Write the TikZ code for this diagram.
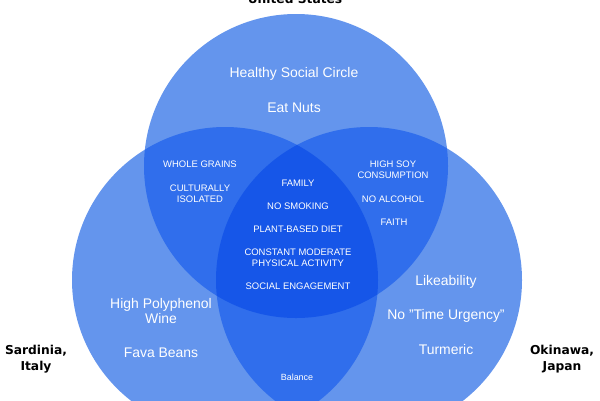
\documentclass[tikz,border=0pt]{standalone}
\usepackage{fontspec}
\setmainfont{Liberation Sans}
\newfontfamily\labelfont{DejaVu Sans}
\definecolor{cone}{RGB}{100,149,237}
\definecolor{ctwo}{RGB}{48,110,236}
\definecolor{cthree}{RGB}{22,86,232}
\begin{document}
\begin{tikzpicture}[x=1bp,y=-1bp,
  bigtext/.style={text=white,font=\fontsize{14}{16}\selectfont,align=center,inner sep=0pt},
  smalltext/.style={text=white,font=\fontsize{9.5}{11.5}\selectfont,align=center,inner sep=0pt},
  regionlabel/.style={text=black,font=\labelfont\bfseries\fontsize{12.3}{16}\selectfont,align=center,inner sep=0pt}]
\useasboundingbox (0,0) rectangle (600,400);
\def\topc{(296,166) circle[radius=152]}
\def\leftc{(225,280) circle[radius=153]}
\def\rightc{(369,280) circle[radius=153]}
% single circles
\fill[cone] \topc;
\fill[cone] \leftc;
\fill[cone] \rightc;
% pairwise overlaps
\begin{scope}\clip \topc; \fill[ctwo] \leftc; \fill[ctwo] \rightc;\end{scope}
\begin{scope}\clip \leftc; \fill[ctwo] \rightc;\end{scope}
% triple overlap
\begin{scope}\clip \topc; \clip \leftc; \fill[cthree] \rightc;\end{scope}
% region labels
\node[regionlabel,anchor=base] (us) at (295,3) {United States};
\node[regionlabel] (sard) at (36,359) {Sardinia,\\Italy};
\node[regionlabel] (oki) at (562,359) {Okinawa,\\Japan};
% top circle only
\node[bigtext] (hsc) at (294,74) {Healthy Social Circle};
\node[bigtext] (nuts) at (294,108) {Eat Nuts};
% top-left
\node[smalltext] (wg) at (200,164) {WHOLE GRAINS};
\node[smalltext] (ci) at (200,194) {CULTURALLY\\ISOLATED};
% top-right
\node[smalltext] (soy) at (393,170) {HIGH SOY\\CONSUMPTION};
\node[smalltext] (alc) at (393,199) {NO ALCOHOL};
\node[smalltext] (faith) at (394,222) {FAITH};
% center
\node[smalltext] (fam) at (298,183) {FAMILY};
\node[smalltext] (smk) at (298,206) {NO SMOKING};
\node[smalltext] (plant) at (298,229) {PLANT-BASED DIET};
\node[smalltext] (act) at (298,257.5) {CONSTANT MODERATE\\PHYSICAL ACTIVITY};
\node[smalltext] (soc) at (298,286) {SOCIAL ENGAGEMENT};
% left
\node[bigtext] (poly) at (161,311) {High Polyphenol\\Wine};
\node[bigtext] (fava) at (161,353) {Fava Beans};
% right
\node[bigtext] (like) at (446,282) {Likeability};
\node[bigtext] (time) at (446,316) {No "Time Urgency"};
\node[bigtext] (turm) at (446,350) {Turmeric};
% bottom lens
\node[smalltext,font=\fontsize{9}{11}\selectfont] (bal) at (297,377) {Balance};
\end{tikzpicture}
\end{document}
